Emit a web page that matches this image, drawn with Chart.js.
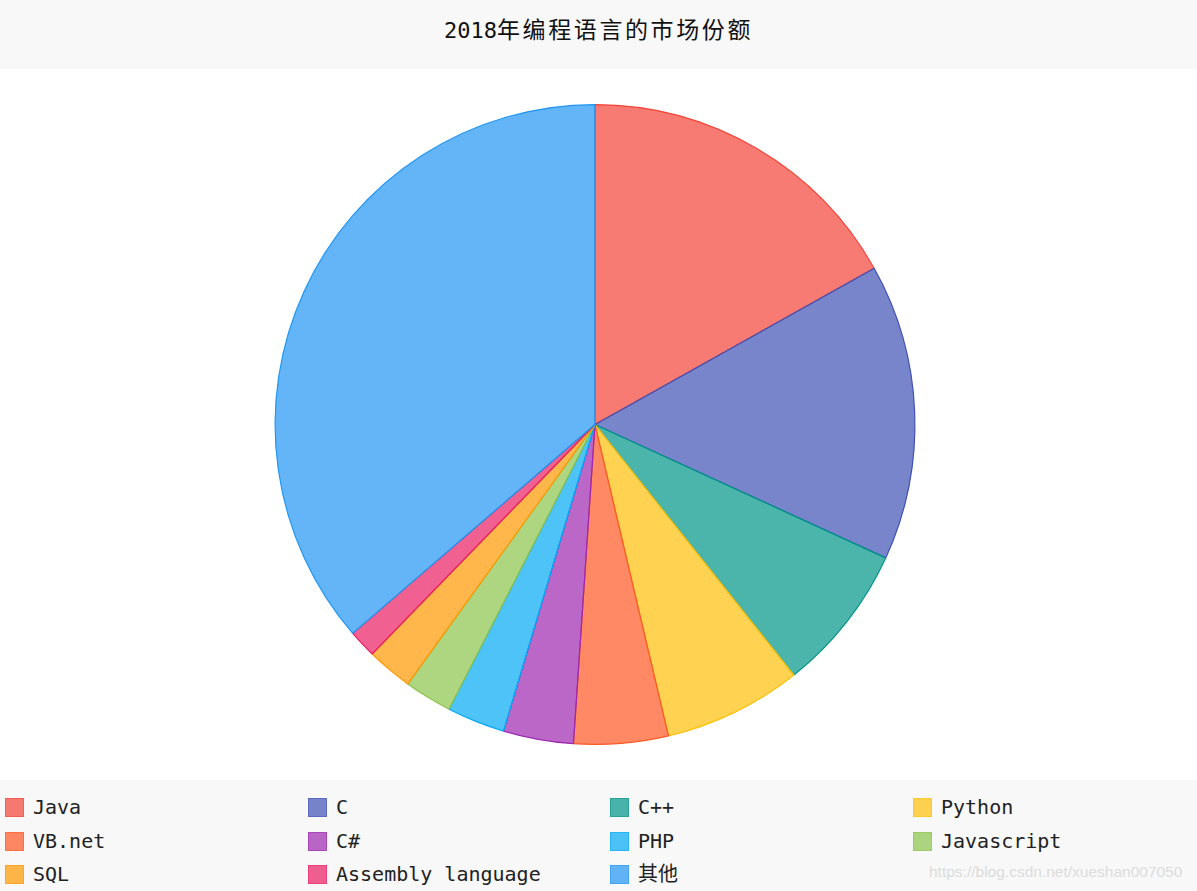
<!DOCTYPE html>
<html>
<head>
<meta charset="utf-8">
<script src="https://cdn.jsdelivr.net/npm/chart.js@4"></script>
<style>
  html, body { margin: 0; padding: 0; background: #ffffff; width: 1197px; height: 891px; overflow: hidden; }
  #title { position: absolute; left: 0; top: 0; width: 1197px; height: 69px; background: #f8f8f8;
           text-align: center; line-height: 56px; color: #111; white-space: nowrap; padding-left: 0; }
  #title .num { font-family: "DejaVu Sans Mono", monospace; font-size: 22px; }
  #title .cjk { font-family: "Noto Sans CJK SC", sans-serif; font-size: 23px; letter-spacing: 2.6px; }
  #wrap { position: absolute; left: 0; top: 69px; width: 1197px; height: 711px; }
  #legend { position: absolute; left: 0; top: 780px; width: 1197px; height: 111px; background: #f8f8f8; }
  .item { position: absolute; height: 22px; line-height: 22px; font-family: "DejaVu Sans Mono", "Noto Sans CJK SC", monospace;
          font-size: 20px; color: #222; white-space: nowrap; }
  .box { position: absolute; left: 0; top: 1px; width: 17px; height: 17px; border: 1.5px solid; }
  .lbl { position: absolute; left: 28px; top: -1px; }
  #wm { position: absolute; left: 929px; top: 863px; font-family: "Liberation Sans", Arial, sans-serif; font-size: 15.5px;
        color: #dcdcdc; white-space: nowrap; }
</style>
</head>
<body>
<div id="title"><span class="num">2018</span><span class="cjk">年编程语言的市场份额</span></div>
<div id="wrap"><canvas id="c" width="1197" height="711"></canvas></div>
<div id="legend"></div>
<div id="wm">https://blog.csdn.net/xueshan007050</div>
<script>
const labels = ["Java", "C", "C++", "Python", "VB.net", "C#", "PHP", "Javascript", "SQL", "Assembly language", "其他"];
const shares = [16.881, 14.966, 7.471, 6.992, 4.762, 3.541, 2.925, 2.411, 2.316, 1.409, 36.326];
const baseColors = ["#F44336", "#3F51B5", "#009688", "#FFC107", "#FF5722", "#9C27B0", "#03A9F4", "#8BC34A", "#FF9800", "#E91E63", "#2196F3"];

function withAlpha(hex, a) {
  const r = parseInt(hex.slice(1, 3), 16), g = parseInt(hex.slice(3, 5), 16), b = parseInt(hex.slice(5, 7), 16);
  return `rgba(${r},${g},${b},${a})`;
}
const fills = baseColors.map(c => withAlpha(c, 0.7));

const chart = new Chart(document.getElementById('c'), {
  type: 'pie',
  data: {
    labels: labels,
    datasets: [{
      data: shares,
      backgroundColor: fills,
      borderColor: baseColors,
      borderWidth: 1.2
    }]
  },
  options: {
    responsive: false,
    animation: false,
    devicePixelRatio: 1,
    layout: { padding: { top: 35, bottom: 35, left: 0, right: 7 } },
    plugins: {
      legend: { display: false },
      title: { display: false },
      tooltip: { enabled: false }
    }
  }
});

// HTML legend built from the chart's labels and colors
const legend = document.getElementById('legend');
const colX = [5, 308, 610, 913];
const rowY = [17, 51, 84];
labels.forEach((lab, i) => {
  const item = document.createElement('div');
  item.className = 'item';
  item.style.left = colX[i % 4] + 'px';
  item.style.top = rowY[Math.floor(i / 4)] + 'px';
  const box = document.createElement('div');
  box.className = 'box';
  box.style.background = fills[i];
  box.style.borderColor = withAlpha(baseColors[i], 0.5);
  const t = document.createElement('span');
  t.className = 'lbl';
  t.textContent = lab;
  item.appendChild(box);
  item.appendChild(t);
  legend.appendChild(item);
});
</script>
</body>
</html>
